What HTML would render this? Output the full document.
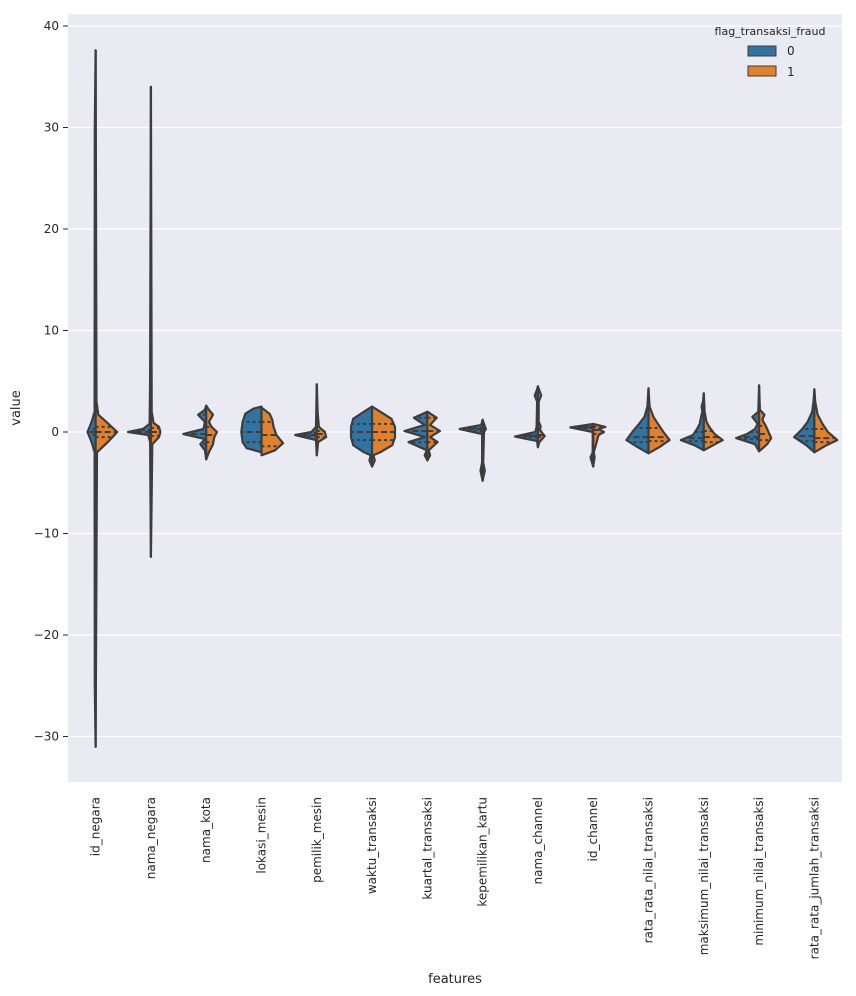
<!DOCTYPE html>
<html><head><meta charset="utf-8"><style>
html,body{margin:0;padding:0;background:#fff;}
svg{display:block;font-family:"DejaVu Sans","Liberation Sans",sans-serif;}
</style></head><body>
<svg id="chart" width="856" height="996" viewBox="0 0 856 996">
<rect x="68" y="14" width="774" height="768" fill="#eaeaf2"/>
<g id="grid"></g><g id="violins"></g><g id="axes"></g>
<g>
<text x="770" y="35" font-size="11" text-anchor="middle" fill="#262626">flag_transaksi_fraud</text>
<rect x="748" y="46" width="28" height="10" fill="#3274a1" stroke="#3d3d3d" stroke-width="1"/>
<text x="787" y="55" font-size="12" fill="#262626">0</text>
<rect x="748" y="66" width="28" height="10" fill="#e1812c" stroke="#3d3d3d" stroke-width="1"/>
<text x="787" y="76" font-size="12" fill="#262626">1</text>
</g>
<text x="455" y="983" font-size="13" text-anchor="middle" fill="#262626">features</text>
<text transform="translate(20,408) rotate(-90)" font-size="13" text-anchor="middle" fill="#262626">value</text>
</svg>
<script>
const categories=["id_negara","nama_negara","nama_kota","lokasi_mesin","pemilik_mesin","waktu_transaksi","kuartal_transaksi","kepemilikan_kartu","nama_channel","id_channel","rata_rata_nilai_transaksi","maksimum_nilai_transaksi","minimum_nilai_transaksi","rata_rata_jumlah_transaksi"];
const yTicks=[40,30,20,10,0,-10,-20,-30];
const density0=[
[[-31,0],[-25,0.03],[-2,0.04],[-1,0.15],[0,0.3],[1,0.15],[2,0.04],[30,0.03],[37.6,0]],
[[-12.3,0],[-1,0.03],[-0.3,0.1],[0,0.85],[0.3,0.3],[0.8,0.05],[5,0.03],[34,0]],
[[-2.7,0],[-1.8,0.05],[-1.2,0.22],[-0.7,0.05],[-0.2,0.85],[0.3,0.1],[1,0.05],[1.7,0.3],[2.2,0.05],[2.6,0]],
[[-2.0,0],[-1.6,0.55],[-1,0.7],[0,0.75],[1,0.7],[1.8,0.6],[2.3,0.3],[2.5,0]],
[[-2.3,0],[-0.8,0.03],[-0.3,0.8],[0,0.2],[0.5,0.03],[4.7,0]],
[[-3.4,0],[-2.8,0.1],[-2.3,0.05],[-2,0.3],[-1.3,0.7],[-0.5,0.78],[0.5,0.78],[1.3,0.7],[2,0.3],[2.5,0]],
[[-2.8,0],[-2.3,0.1],[-1.8,0.02],[-1,0.7],[-0.5,0.1],[0.1,0.85],[0.7,0.1],[1.4,0.5],[2.0,0]],
[[-4.8,0],[-3.8,0.08],[-3,0.02],[-0.2,0.02],[0.3,0.85],[0.7,0.05],[1.2,0]],
[[-1.5,0],[-0.9,0.03],[-0.45,0.85],[0,0.1],[0.5,0.05],[3,0.03],[3.6,0.12],[4.2,0.03],[4.5,0]],
[[-3.4,0],[-2.5,0.1],[-2,0.02],[0,0.02],[0.45,0.85],[0.8,0]],
[[-2.1,0],[-1.5,0.4],[-0.8,0.82],[0,0.6],[0.8,0.35],[1.5,0.15],[2.5,0.04],[4.3,0]],
[[-1.8,0],[-1.3,0.35],[-0.8,0.85],[-0.3,0.4],[0.3,0.25],[0.8,0.15],[1.5,0.1],[2,0.05],[2.5,0.08],[3,0.03],[3.8,0]],
[[-1.9,0],[-1.2,0.15],[-0.6,0.85],[-0.2,0.45],[0.3,0.15],[0.8,0.05],[1.5,0.25],[2,0.03],[4.6,0]],
[[-2,0],[-1.3,0.3],[-0.5,0.75],[0.3,0.45],[1,0.25],[2,0.08],[3,0.03],[4.2,0]]
];
const density1=[
[[-31,0],[-2,0.05],[-1,0.45],[0,0.8],[1,0.4],[1.7,0.1],[3,0.03],[37.6,0]],
[[-12.3,0],[-1.2,0.05],[-0.5,0.3],[0,0.35],[0.5,0.3],[0.9,0.1],[2,0.03],[34,0]],
[[-2.7,0],[-2,0.1],[-1.2,0.25],[-0.5,0.3],[0,0.4],[0.5,0.2],[1,0.1],[1.7,0.25],[2.2,0.1],[2.6,0]],
[[-2.3,0],[-1.8,0.5],[-1.1,0.8],[-0.3,0.55],[0.5,0.45],[1.2,0.4],[1.8,0.3],[2.4,0]],
[[-2.3,0],[-1,0.05],[-0.5,0.35],[0,0.3],[0.5,0.08],[2,0.03],[4.7,0]],
[[-3.4,0],[-2.8,0.1],[-2.3,0.05],[-2,0.3],[-1.3,0.75],[-0.5,0.85],[0.5,0.85],[1.3,0.72],[2,0.3],[2.5,0]],
[[-2.8,0],[-2.3,0.1],[-1.8,0.05],[-1,0.38],[-0.5,0.1],[0.1,0.47],[0.7,0.1],[1.4,0.35],[2.0,0]],
[[-4.8,0],[-3.8,0.08],[-3,0.02],[0,0.05],[0.3,0.12],[0.8,0.05],[1.2,0]],
[[-1.5,0],[-1,0.05],[-0.4,0.25],[0.2,0.08],[0.6,0.1],[1,0.03],[3,0.03],[3.6,0.12],[4.5,0]],
[[-3.4,0],[-2.5,0.05],[-2,0.02],[-0.3,0.2],[0,0.4],[0.3,0.2],[0.5,0.45],[0.8,0]],
[[-2.1,0],[-1.5,0.4],[-0.8,0.78],[0,0.55],[0.8,0.35],[1.5,0.18],[2.5,0.04],[4.3,0]],
[[-1.8,0],[-1.3,0.35],[-0.8,0.7],[-0.2,0.4],[0.5,0.2],[1,0.1],[2,0.03],[3.8,0]],
[[-1.9,0],[-1.2,0.3],[-0.6,0.45],[0,0.35],[0.6,0.25],[1.2,0.12],[1.7,0.2],[2.2,0.03],[4.6,0]],
[[-2,0],[-1.3,0.45],[-0.8,0.85],[0,0.5],[0.8,0.3],[1.7,0.12],[3,0.03],[4.2,0]]
];
const quart0=[[-0.3,0,0.3],[-0.2,0,0.2],[-1.2,-0.2,1.7],[-1,0,1],[-0.4,-0.3,-0.1],[-0.8,0,0.8],[-1,0.1,1.4],[0.1,0.3,0.4],[-0.5,-0.4,-0.3],[0.4,0.45,0.5],[-1,-0.5,0.4],[-0.9,-0.6,0],[-0.7,-0.5,0],[-0.9,-0.4,0.3]];
const quart1=[[-0.5,0,0.5],[-0.4,0,0.4],[-1,-0.3,0.5],[-1.4,-0.3,1],[-0.5,-0.2,0.1],[-0.8,0,0.8],[-1,0.1,1.4],[0,0.3,0.4],[-0.5,-0.3,0.3],[-0.2,0.2,0.5],[-0.9,-0.5,0.4],[-1,-0.5,0.1],[-0.8,-0.2,0.6],[-1,-0.6,0.3]];
const NS="http://www.w3.org/2000/svg";
const L=68,W=774,T=14,H=768;
const y=v=>432-v*10.15;
const xc=i=>L+W/categories.length*(i+0.5);
const MAXW=27;
function mk(tag,attrs,parent){const e=document.createElementNS(NS,tag);for(const k in attrs)e.setAttribute(k,attrs[k]);parent.appendChild(e);return e;}
const grid=document.getElementById('grid'),vg=document.getElementById('violins'),ax=document.getElementById('axes');
yTicks.forEach(t=>{
  const g=mk('line',{x1:L,x2:L+W,y1:y(t),y2:y(t),stroke:'#fff','stroke-width':1.2},grid);
  
  
  const tk=mk('line',{x1:L-5,x2:L,y1:y(t),y2:y(t),stroke:'#262626','stroke-width':1},ax);
  
  
  const tx=mk('text',{x:L-9,y:y(t)+4,'font-size':12,'text-anchor':'end',fill:'#262626'},ax);
  tx.textContent=t<0?'\u2212'+Math.abs(t):String(t);
  
  
});
function widthAt(d,v){for(let k=0;k<d.length-1;k++){if(v>=d[k][0]&&v<=d[k+1][0]){const f=(v-d[k][0])/(d[k+1][0]-d[k][0]);return d[k][1]+f*(d[k+1][1]-d[k][1]);}}return 0;}
categories.forEach((c,i)=>{
  const cx=xc(i);
  [[density0,quart0,-1,'#3274a1'],[density1,quart1,1,'#e1812c']].forEach(([D,Q,s,col],h)=>{
    const d=D[i];
    let pts=d.map(p=>(cx+s*p[1]*MAXW).toFixed(1)+','+y(p[0]).toFixed(1));
    pts.push(cx+','+y(d[d.length-1][0]).toFixed(1));
    pts.unshift(cx+','+y(d[0][0]).toFixed(1));
    const p=mk('polygon',{points:pts.join(' '),fill:col,stroke:'#3d3d3d','stroke-width':2.2,'stroke-linejoin':'round'},vg);
    
    
    Q[i].forEach((q,qi)=>{
      const w=widthAt(d,q)*MAXW;
      const l=mk('line',{x1:cx,x2:cx+s*w,y1:y(q),y2:y(q),stroke:'#3d3d3d','stroke-width':2,'stroke-dasharray':qi==1?'6,3':'3,3'},vg);
      
      
    });
  });
  const tx=mk('text',{transform:`translate(${(cx+4).toFixed(1)},797) rotate(-90)`,'font-size':12,'text-anchor':'end',fill:'#262626'},ax);
  tx.textContent=c;
  
  
});
</script>
</body></html>
